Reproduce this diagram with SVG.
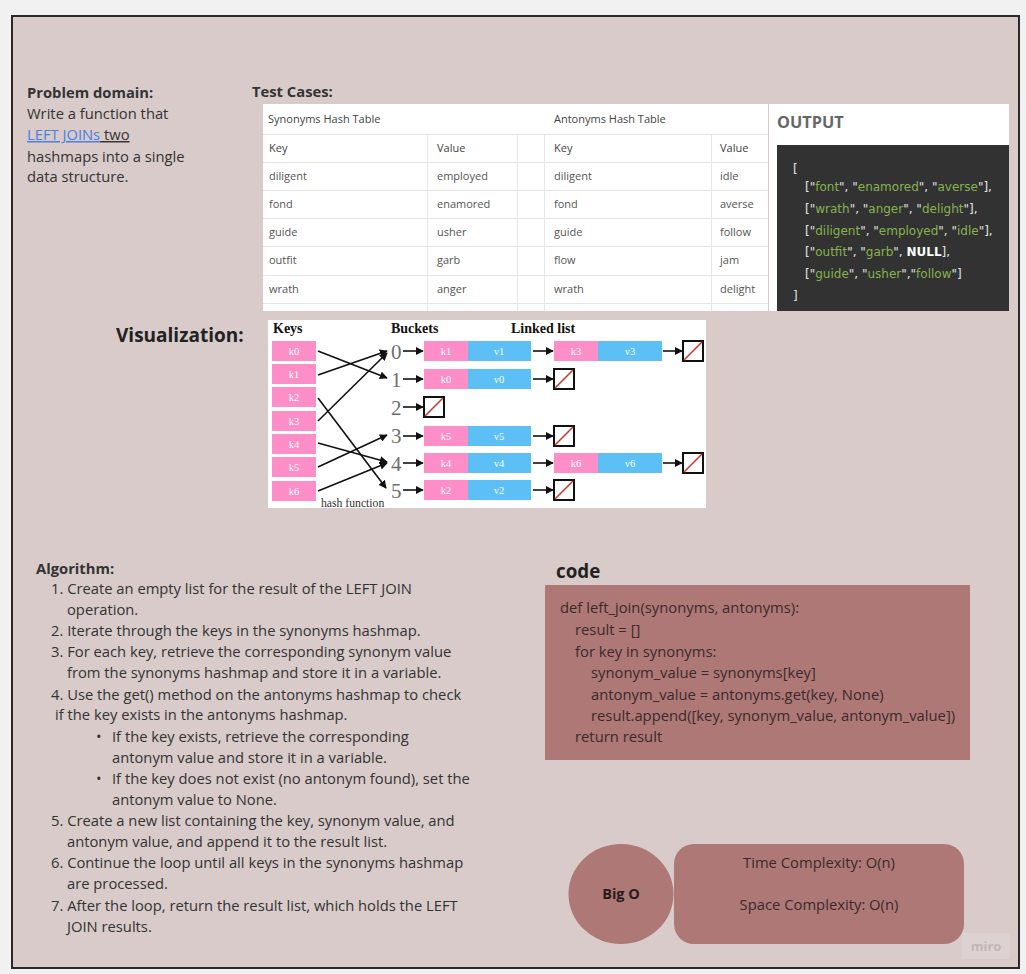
<svg xmlns="http://www.w3.org/2000/svg" width="1026" height="974" viewBox="0 0 1026 974">
<defs>
<style>
.os{font-family:"Open Sans","Liberation Sans",sans-serif;}
.b{font-weight:bold;}
.body{font-size:14.75px;fill:#333;}
.tbl{font-family:"Open Sans","Liberation Sans",sans-serif;font-size:11px;fill:#555;}
.tline{stroke:#e6e6e6;stroke-width:1;}
.out{font-family:"DejaVu Sans","Liberation Sans",sans-serif;font-size:12px;fill:#e4e4e4;}
.str{fill:#86b24e;}
.ser{font-family:"Liberation Serif","Times New Roman",serif;}
.lbl{font-size:14px;font-weight:bold;fill:#111;}
.num{font-size:21px;fill:#6e6e6e;}
.kbox{fill:#fd8ec7;}
.vbox{fill:#5cc0f6;}
.bt{font-family:"Liberation Serif",serif;font-size:10.5px;fill:#fff;text-anchor:middle;}
.nullbox{fill:#fff;stroke:#111;stroke-width:2;}
.nullline{stroke:#d0362b;stroke-width:1.6;}
.arrow{stroke:#111;stroke-width:1.6;fill:none;marker-end:url(#ah);}
.code{font-family:"Open Sans","Liberation Sans",sans-serif;font-size:14.8px;fill:#3a2a2a;}
.rose{fill:#ae7877;}
</style>
<marker id="ah" viewBox="0 0 10 10" refX="9" refY="5" markerWidth="8" markerHeight="8" markerUnits="userSpaceOnUse" orient="auto">
<path d="M0,0 L10,5 L0,10 z" fill="#111"/>
</marker>
</defs>

<rect x="0" y="0" width="1026" height="974" fill="#f1f1f1"/>
<g id="frame">
<rect x="12" y="16" width="1007" height="952" fill="#d8cbca" stroke="#2a2a2a" stroke-width="2"/>
</g>

<g id="problem-domain" class="os body">
<text x="27" y="98" class="b">Problem domain:</text>
<text x="27" y="119">Write a function that</text>
<text x="27" y="140"><tspan fill="#4a7fe0" text-decoration="underline">LEFT JOINs</tspan><tspan text-decoration="underline"> two </tspan></text>
<text x="27" y="162">hashmaps into a single</text>
<text x="27" y="182">data structure.</text>
</g>

<g id="test-cases">
<text x="252" y="97" class="os b body">Test Cases:</text>
<rect x="263" y="104" width="505" height="207" fill="#fff"/>
<g class="tline">
<line x1="263" y1="134.5" x2="768" y2="134.5"/>
<line x1="263" y1="162.5" x2="768" y2="162.5"/>
<line x1="263" y1="190.5" x2="768" y2="190.5"/>
<line x1="263" y1="218.5" x2="768" y2="218.5"/>
<line x1="263" y1="246.5" x2="768" y2="246.5"/>
<line x1="263" y1="275.5" x2="768" y2="275.5"/>
<line x1="263" y1="303.5" x2="768" y2="303.5"/>
<line x1="427.5" y1="134" x2="427.5" y2="311"/>
<line x1="517.5" y1="134" x2="517.5" y2="311"/>
<line x1="544.5" y1="134" x2="544.5" y2="311"/>
<line x1="711.5" y1="134" x2="711.5" y2="311"/>
</g>
<g class="tbl">
<text x="268" y="123" fill="#444">Synonyms Hash Table</text>
<text x="554" y="123" fill="#444">Antonyms Hash Table</text>
<text x="269" y="152" fill="#444">Key</text><text x="437" y="152" fill="#444">Value</text><text x="554" y="152" fill="#444">Key</text><text x="720" y="152" fill="#444">Value</text>
<text x="269" y="180">diligent</text><text x="437" y="180">employed</text><text x="554" y="180">diligent</text><text x="720" y="180">idle</text>
<text x="269" y="208">fond</text><text x="437" y="208">enamored</text><text x="554" y="208">fond</text><text x="720" y="208">averse</text>
<text x="269" y="236">guide</text><text x="437" y="236">usher</text><text x="554" y="236">guide</text><text x="720" y="236">follow</text>
<text x="269" y="264">outfit</text><text x="437" y="264">garb</text><text x="554" y="264">flow</text><text x="720" y="264">jam</text>
<text x="269" y="293">wrath</text><text x="437" y="293">anger</text><text x="554" y="293">wrath</text><text x="720" y="293">delight</text>
</g>
</g>

<g id="output">
<rect x="769" y="104" width="240" height="207" fill="#fff"/>
<text x="777" y="128" class="os b" font-size="16.3" fill="#666">OUTPUT</text>
<rect x="777" y="145" width="232" height="166" fill="#323232"/>
<g class="out">
<text x="793" y="173">[</text>
<text x="805" y="191">[&quot;<tspan class="str">font</tspan>&quot;, &quot;<tspan class="str">enamored</tspan>&quot;, &quot;<tspan class="str">averse</tspan>&quot;],</text>
<text x="805" y="213">[&quot;<tspan class="str">wrath</tspan>&quot;, &quot;<tspan class="str">anger</tspan>&quot;, &quot;<tspan class="str">delight</tspan>&quot;],</text>
<text x="805" y="235">[&quot;<tspan class="str">diligent</tspan>&quot;, &quot;<tspan class="str">employed</tspan>&quot;, &quot;<tspan class="str">idle</tspan>&quot;],</text>
<text x="805" y="256">[&quot;<tspan class="str">outfit</tspan>&quot;, &quot;<tspan class="str">garb</tspan>&quot;, <tspan font-weight="bold" fill="#fff">NULL</tspan>],</text>
<text x="805" y="278">[&quot;<tspan class="str">guide</tspan>&quot;, &quot;<tspan class="str">usher</tspan>&quot;,&quot;<tspan class="str">follow</tspan>&quot;]</text>
<text x="793" y="300">]</text>
</g>
</g>

<g id="visualization-title">
<text x="116" y="342" class="os b" font-size="19" fill="#222">Visualization:</text>
</g>

<g id="visualization">
<rect x="268" y="320" width="438" height="188" fill="#fff"/>
<text x="273" y="333" class="ser lbl">Keys</text>
<text x="391" y="333" class="ser lbl">Buckets</text>
<text x="511" y="333" class="ser lbl">Linked list</text>
<text x="321" y="507" class="ser" font-size="11.7" fill="#333">hash function</text>

<g id="keys">
<g id="k0"><rect x="272" y="341" width="44" height="20" class="kbox"/><text x="294" y="355" class="bt">k0</text></g>
<g id="k1"><rect x="272" y="364" width="44" height="20" class="kbox"/><text x="294" y="378" class="bt">k1</text></g>
<g id="k2"><rect x="272" y="387" width="44" height="20" class="kbox"/><text x="294" y="401" class="bt">k2</text></g>
<g id="k3"><rect x="272" y="411" width="44" height="20" class="kbox"/><text x="294" y="425" class="bt">k3</text></g>
<g id="k4"><rect x="272" y="434" width="44" height="20" class="kbox"/><text x="294" y="448" class="bt">k4</text></g>
<g id="k5"><rect x="272" y="457" width="44" height="20" class="kbox"/><text x="294" y="471" class="bt">k5</text></g>
<g id="k6"><rect x="272" y="481" width="44" height="20" class="kbox"/><text x="294" y="495" class="bt">k6</text></g>
</g>

<g id="buckets" class="ser num">
<text x="391" y="359">0</text>
<text x="391" y="387">1</text>
<text x="391" y="415">2</text>
<text x="391" y="443">3</text>
<text x="391" y="471">4</text>
<text x="391" y="498">5</text>
</g>

<g id="list-nodes">
<g id="n-k1v1"><rect x="424" y="341" width="44" height="20" class="kbox"/><rect x="468" y="341" width="63" height="20" class="vbox"/><text x="446" y="355" class="bt">k1</text><text x="499" y="355" class="bt">v1</text></g>
<g id="n-k3v3"><rect x="554" y="341" width="44" height="20" class="kbox"/><rect x="598" y="341" width="64" height="20" class="vbox"/><text x="576" y="355" class="bt">k3</text><text x="630" y="355" class="bt">v3</text></g>
<g id="n-k0v0"><rect x="424" y="369" width="44" height="20" class="kbox"/><rect x="468" y="369" width="63" height="20" class="vbox"/><text x="446" y="383" class="bt">k0</text><text x="499" y="383" class="bt">v0</text></g>
<g id="n-k5v5"><rect x="424" y="426" width="44" height="20" class="kbox"/><rect x="468" y="426" width="63" height="20" class="vbox"/><text x="446" y="440" class="bt">k5</text><text x="499" y="440" class="bt">v5</text></g>
<g id="n-k4v4"><rect x="424" y="453" width="44" height="20" class="kbox"/><rect x="468" y="453" width="63" height="20" class="vbox"/><text x="446" y="467" class="bt">k4</text><text x="499" y="467" class="bt">v4</text></g>
<g id="n-k6v6"><rect x="554" y="453" width="44" height="20" class="kbox"/><rect x="598" y="453" width="64" height="20" class="vbox"/><text x="576" y="467" class="bt">k6</text><text x="630" y="467" class="bt">v6</text></g>
<g id="n-k2v2"><rect x="424" y="480" width="44" height="20" class="kbox"/><rect x="468" y="480" width="63" height="20" class="vbox"/><text x="446" y="494" class="bt">k2</text><text x="499" y="494" class="bt">v2</text></g>
</g>

<g id="null-nodes">
<g><rect x="683" y="341" width="20" height="20" class="nullbox"/><line x1="684" y1="360" x2="702" y2="342" class="nullline"/></g>
<g><rect x="554" y="369" width="20" height="20" class="nullbox"/><line x1="555" y1="388" x2="573" y2="370" class="nullline"/></g>
<g><rect x="424" y="397" width="20" height="20" class="nullbox"/><line x1="425" y1="416" x2="443" y2="398" class="nullline"/></g>
<g><rect x="554" y="426" width="20" height="20" class="nullbox"/><line x1="555" y1="445" x2="573" y2="427" class="nullline"/></g>
<g><rect x="683" y="453" width="20" height="20" class="nullbox"/><line x1="684" y1="472" x2="702" y2="454" class="nullline"/></g>
<g><rect x="554" y="480" width="20" height="20" class="nullbox"/><line x1="555" y1="499" x2="573" y2="481" class="nullline"/></g>
</g>
</g>

<g id="connectors">
<path class="arrow" d="M318,351 L387,378"/>
<path class="arrow" d="M318,375 L387,351"/>
<path class="arrow" d="M318,398 L386,488"/>
<path class="arrow" d="M318,421 L387,353"/>
<path class="arrow" d="M318,443 L387,462"/>
<path class="arrow" d="M318,467 L387,435"/>
<path class="arrow" d="M318,491 L387,463"/>
<path class="arrow" d="M403,351 L423,351"/>
<path class="arrow" d="M403,379 L423,379"/>
<path class="arrow" d="M403,407 L423,407"/>
<path class="arrow" d="M403,436 L423,436"/>
<path class="arrow" d="M403,463 L423,463"/>
<path class="arrow" d="M403,490 L423,490"/>
<path class="arrow" d="M533,351 L553,351"/>
<path class="arrow" d="M663,351 L682,351"/>
<path class="arrow" d="M533,379 L553,379"/>
<path class="arrow" d="M533,436 L553,436"/>
<path class="arrow" d="M533,463 L553,463"/>
<path class="arrow" d="M663,463 L682,463"/>
<path class="arrow" d="M533,490 L553,490"/>
</g>

<g id="algorithm" class="os body">
<text x="36" y="574" class="b">Algorithm:</text>
<text x="51" y="594">1. Create an empty list for the result of the LEFT JOIN</text>
<text x="67" y="615">operation.</text>
<text x="51" y="636">2. Iterate through the keys in the synonyms hashmap.</text>
<text x="51" y="657">3. For each key, retrieve the corresponding synonym value</text>
<text x="67" y="678">from the synonyms hashmap and store it in a variable.</text>
<text x="51" y="700">4. Use the get() method on the antonyms hashmap to check</text>
<text x="55" y="720">if the key exists in the antonyms hashmap.</text>
<text x="96" y="742">•</text><text x="112" y="742">If the key exists, retrieve the corresponding</text>
<text x="112" y="763">antonym value and store it in a variable.</text>
<text x="96" y="784">•</text><text x="112" y="784">If the key does not exist (no antonym found), set the</text>
<text x="112" y="805">antonym value to None.</text>
<text x="51" y="826">5. Create a new list containing the key, synonym value, and</text>
<text x="67" y="847">antonym value, and append it to the result list.</text>
<text x="51" y="868">6. Continue the loop until all keys in the synonyms hashmap</text>
<text x="67" y="889">are processed.</text>
<text x="51" y="911">7. After the loop, return the result list, which holds the LEFT</text>
<text x="67" y="932">JOIN results.</text>
</g>

<g id="code">
<text x="556" y="578" class="os b" font-size="18.8" fill="#222">code</text>
<rect x="545" y="585" width="425" height="175" class="rose"/>
<g class="code">
<text x="560" y="613">def left_join(synonyms, antonyms):</text>
<text x="575" y="635">result = []</text>
<text x="575" y="657">for key in synonyms:</text>
<text x="591" y="678">synonym_value = synonyms[key]</text>
<text x="591" y="700">antonym_value = antonyms.get(key, None)</text>
<text x="591" y="721">result.append([key, synonym_value, antonym_value])</text>
<text x="575" y="742">return result</text>
</g>
</g>

<g id="big-o">
<ellipse cx="621" cy="894" rx="52.5" ry="50" class="rose"/>
<text x="621" y="899" class="os b" font-size="14.5" fill="#2a1c1c" text-anchor="middle">Big O</text>
</g>

<g id="complexity">
<rect x="674" y="844" width="290" height="100" rx="20" ry="20" class="rose"/>
<text x="819" y="868" class="os" font-size="14.8" fill="#3a2a2a" text-anchor="middle">Time Complexity: O(n)</text>
<text x="819" y="910" class="os" font-size="14.8" fill="#3a2a2a" text-anchor="middle">Space Complexity: O(n)</text>
</g>

<g id="watermark">
<rect x="962" y="933" width="48" height="26" fill="#ddd2d1"/>
<text x="986" y="951" class="os b" font-size="13" fill="#c4b6b6" text-anchor="middle">miro</text>
</g>
</svg>
